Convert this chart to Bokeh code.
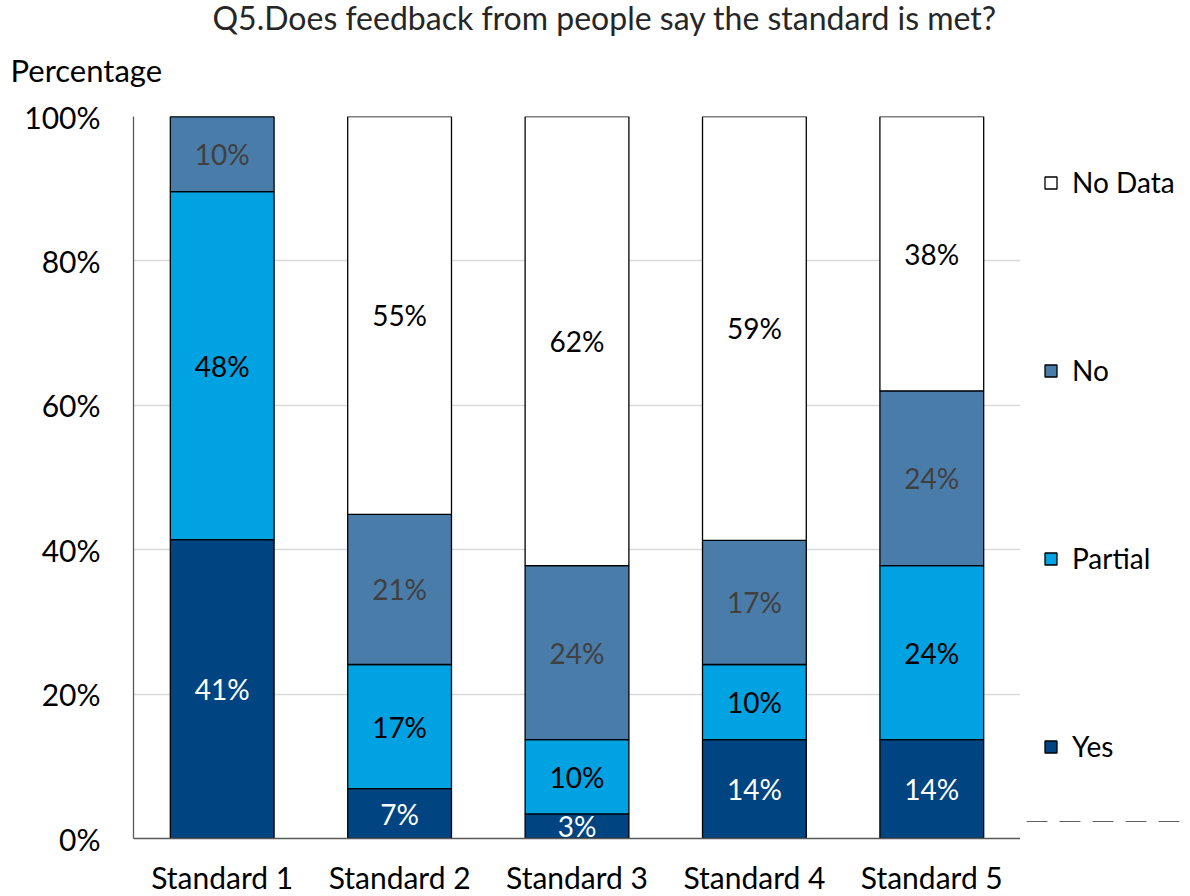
from bokeh.plotting import figure
from bokeh.models import (ColumnDataSource, Title, Legend, LegendItem, NumeralTickFormatter,
                          Range1d, FactorRange, BoxAnnotation)
from bokeh.layouts import row
from bokeh.embed import file_html
from bokeh.resources import INLINE
from bokeh.core.properties import value
import numpy as np

categories = ["Standard 1", "Standard 2", "Standard 3", "Standard 4", "Standard 5"]
series = ["Yes", "Partial", "No", "No Data"]
yes = [41.4, 6.9, 3.4, 13.7, 13.7]
partial = [48.2, 17.2, 10.3, 10.4, 24.1]
no = [10.4, 20.8, 24.1, 17.2, 24.2]
no_data = [0.0, 55.1, 62.2, 58.7, 38.0]
colors = ["#004481", "#00A2E1", "#4A7CAA", "#FFFFFF"]
label_colors = ["#FFFFFF", "#000000", "#404040", "#000000"]

FONT = "Lato"

data = {"cat": categories}
for name, vals in zip(series, [yes, partial, no, no_data]):
    data[name] = [v / 100 for v in vals]
src = ColumnDataSource(data)

p = figure(x_range=categories, y_range=(0, 1), frame_width=887, frame_height=722,
           output_backend="svg", toolbar_location=None, tools="",
           min_border_left=133, min_border_right=0, min_border_bottom=0, min_border_top=0)

renderers = p.vbar_stack(series, x="cat", width=0.585, color=colors, source=src,
                         line_color="#000000", line_width=1.3)

# labels
bottoms = np.zeros(len(categories))
for name, vals, lc in zip(series, [yes, partial, no, no_data], label_colors):
    v = np.array(vals) / 100
    mids = bottoms + v / 2
    keep = v > 0
    ls = ColumnDataSource(dict(x=[c for c, k in zip(categories, keep) if k],
                               y=list(mids[keep]),
                               t=["%d%%" % round(x * 100) for x in v[keep]]))
    p.text(x="x", y="y", text="t", source=ls, text_align="center", text_baseline="middle",
           text_color=lc, text_font=value(FONT), text_font_size="28px")
    bottoms = bottoms + v

# p.title is outermost (a small spacer); added titles stack outward from the plot
p.title.text = " "
p.title.text_font_size = "1px"
p.title.standoff = 8
p.add_layout(Title(text="Percentage", align="left", offset=-123, text_font=FONT,
                   text_font_size="31px", text_font_style="normal", text_color="#000000",
                   standoff=56), "above")
p.add_layout(Title(text="Q5.Does feedback from people say the standard is met?", align="left",
                   offset=79, text_font=FONT, text_font_size="32px", text_font_style="normal",
                   text_color="#262626", standoff=-32), "above")

p.yaxis.ticker = [0, 0.2, 0.4, 0.6, 0.8, 1.0]
p.yaxis.formatter = NumeralTickFormatter(format="0%")
for ax in (p.xaxis, p.yaxis):
    ax.major_tick_line_color = None
    ax.minor_tick_line_color = None
    ax.major_label_text_font = FONT
    ax.major_label_text_font_size = "30px"
    ax.major_label_text_color = "#000000"
    ax.axis_line_color = "#595959"
    ax.axis_line_width = 1.3
p.yaxis.major_label_standoff = 27
p.xaxis.major_label_standoff = 14
p.xgrid.grid_line_color = None
p.ygrid.grid_line_color = "#D9D9D9"
p.ygrid.grid_line_width = 1.3
p.outline_line_color = None
p.x_range.range_padding = 0

# legend panel (separate figure to the right of the chart); its bars lie outside its view
LH = 880
pl = figure(width=165, height=LH, x_range=FactorRange(*categories), y_range=Range1d(2, 3),
            output_backend="svg", toolbar_location=None, tools="", min_border=0,
            x_axis_location=None, y_axis_location=None)
pl.grid.visible = False
pl.outline_line_color = None
lrs = pl.vbar_stack(series, x="cat", width=0.585, color=colors, source=src,
                    line_color="#000000", line_width=1.3)
# white mask over the bottom edge of the legend panel
pl.add_layout(BoxAnnotation(top=2.05, fill_color="#FFFFFF", fill_alpha=1.0,
                            line_alpha=0, line_color=None))
items = [LegendItem(label=value(s), renderers=[r]) for s, r in zip(series, lrs)]
legend = Legend(items=items[::-1], location=(23, LH - 764 - 58), border_line_color=None,
                label_text_font=FONT, label_text_font_size="28px", label_text_color="#000000",
                glyph_width=15, glyph_height=15, label_standoff=14, spacing=154,
                padding=0, margin=0, background_fill_alpha=0)
pl.add_layout(legend)

layout = row(p, pl)
open("out.html", "w").write(file_html(layout, INLINE))
